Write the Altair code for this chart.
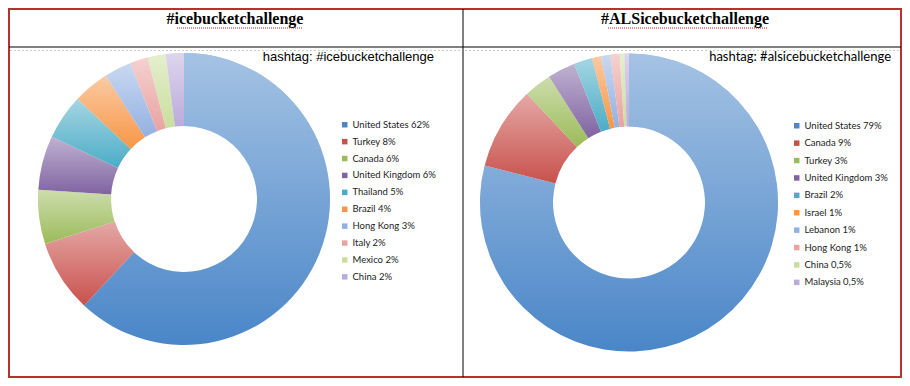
import altair as alt
import pandas as pd

# ---- data -------------------------------------------------------------
left_countries = ["United States", "Turkey", "Canada", "United Kingdom", "Thailand",
                  "Brazil", "Hong Kong", "Italy", "Mexico", "China"]
left_values = [62, 8, 6, 6, 5, 4, 3, 2, 2, 2]
left_pct = ["62%", "8%", "6%", "6%", "5%", "4%", "3%", "2%", "2%", "2%"]

right_countries = ["United States", "Canada", "Turkey", "United Kingdom", "Brazil",
                   "Israel", "Lebanon", "Hong Kong", "China", "Malaysia"]
right_values = [79, 9, 3, 3, 2, 1, 1, 1, 0.5, 0.5]
right_pct = ["79%", "9%", "3%", "3%", "2%", "1%", "1%", "1%", "0,5%", "0,5%"]

palette = ["#4A86C8", "#C9514C", "#9BBB59", "#8064A2", "#4BACC6",
           "#F79646", "#93B1E2", "#E9A3A1", "#CADE9E", "#BBABDA"]

titles = ["#icebucketchallenge", "#ALSicebucketchallenge"]
subtitles = ["hashtag: #icebucketchallenge", "hashtag: #alsicebucketchallenge"]


def make_df(countries, values, pct):
    return pd.DataFrame({
        "country": countries,
        "value": values,
        "label": [f"{c} {p}" for c, p in zip(countries, pct)],
        "idx": list(range(len(countries))),
    })


left_df = make_df(left_countries, left_values, left_pct)
right_df = make_df(right_countries, right_values, right_pct)

W, H = 892, 368

shade = alt.LinearGradient(
    gradient="linear",
    stops=[alt.GradientStop(offset=0, color="rgba(255,255,255,0.5)"),
           alt.GradientStop(offset=1, color="rgba(255,255,255,0)")],
    x1=0, x2=0, y1=0, y2=1,
)


def donut(df, cx, cy, r_out, r_in, lx, ly, row_pad):
    labels = list(df["label"])
    base = alt.Chart(df).mark_arc(outerRadius=r_out, innerRadius=r_in).encode(
        theta=alt.Theta("value:Q", stack=True),
        order=alt.Order("idx:Q", sort="ascending"),
        x=alt.value(cx), y=alt.value(cy),
        color=alt.Color(
            "label:N", title=None, sort=labels,
            scale=alt.Scale(domain=labels, range=palette),
            legend=alt.Legend(orient="none", legendX=lx, legendY=ly,
                              symbolType="square", symbolSize=30,
                              symbolStrokeWidth=0, labelFont="Lato",
                              labelFontSize=9.5, labelColor="#222222",
                              rowPadding=row_pad, labelOffset=3),
        ),
    )
    over = alt.Chart(df).mark_arc(outerRadius=r_out, innerRadius=r_in, color=shade).encode(
        theta=alt.Theta("value:Q", stack=True),
        order=alt.Order("idx:Q", sort="ascending"),
        x=alt.value(cx), y=alt.value(cy),
    )
    return alt.layer(base, over)


one = pd.DataFrame({"a": [0]})

v_rule = alt.Chart(one).mark_rule(color="black", strokeWidth=1).encode(
    x=alt.value(454), y=alt.value(0), y2=alt.value(H))
h_rule = alt.Chart(one).mark_rule(color="black", strokeWidth=1).encode(
    y=alt.value(38), x=alt.value(0), x2=alt.value(W))
g_rule1 = alt.Chart(one).mark_rule(color="#cccccc", strokeWidth=1, strokeDash=[2, 2]).encode(
    y=alt.value(41.5), x=alt.value(1), x2=alt.value(452))
g_rule2 = alt.Chart(one).mark_rule(color="#cccccc", strokeWidth=1, strokeDash=[2, 2]).encode(
    y=alt.value(41.5), x=alt.value(456), x2=alt.value(W - 1))


def text_layer(txt, x, y, align, font, size, weight="normal", color="black"):
    d = pd.DataFrame({"t": [txt]})
    return alt.Chart(d).mark_text(align=align, baseline="middle", font=font,
                                  fontSize=size, fontWeight=weight, color=color).encode(
        text="t:N", x=alt.value(x), y=alt.value(y))


t1 = text_layer(titles[0], 226, 10, "center", "Liberation Serif", 16, "bold")
t2 = text_layer(titles[1], 676, 10, "center", "Liberation Serif", 16, "bold")
u1 = alt.Chart(one).mark_rule(color="#d02020", strokeWidth=1, strokeDash=[1, 1]).encode(
    y=alt.value(19), x=alt.value(168), x2=alt.value(293))
u2 = alt.Chart(one).mark_rule(color="#d02020", strokeWidth=1, strokeDash=[1, 1]).encode(
    y=alt.value(19), x=alt.value(599), x2=alt.value(758))
s1 = text_layer(subtitles[0], 425, 48, "right", "Liberation Sans", 13)
s2 = text_layer(subtitles[1], 882, 48, "right", "Lato", 13)

left = donut(left_df, 175, 190, 146, 73, 331, 111, 5.9)
right = donut(right_df, 620, 193.5, 149, 76, 783, 112, 6.4)

chart = alt.layer(
    left, right, v_rule, h_rule, g_rule1, g_rule2, t1, t2, u1, u2, s1, s2
).resolve_scale(color="independent").properties(
    width=W, height=H, padding=1, autosize=alt.AutoSizeParams(type="none"),
    background="white",
).configure_view(stroke="#B8312F", strokeWidth=2)

chart.save("out.html", embed_options={"renderer": "svg", "actions": False})
